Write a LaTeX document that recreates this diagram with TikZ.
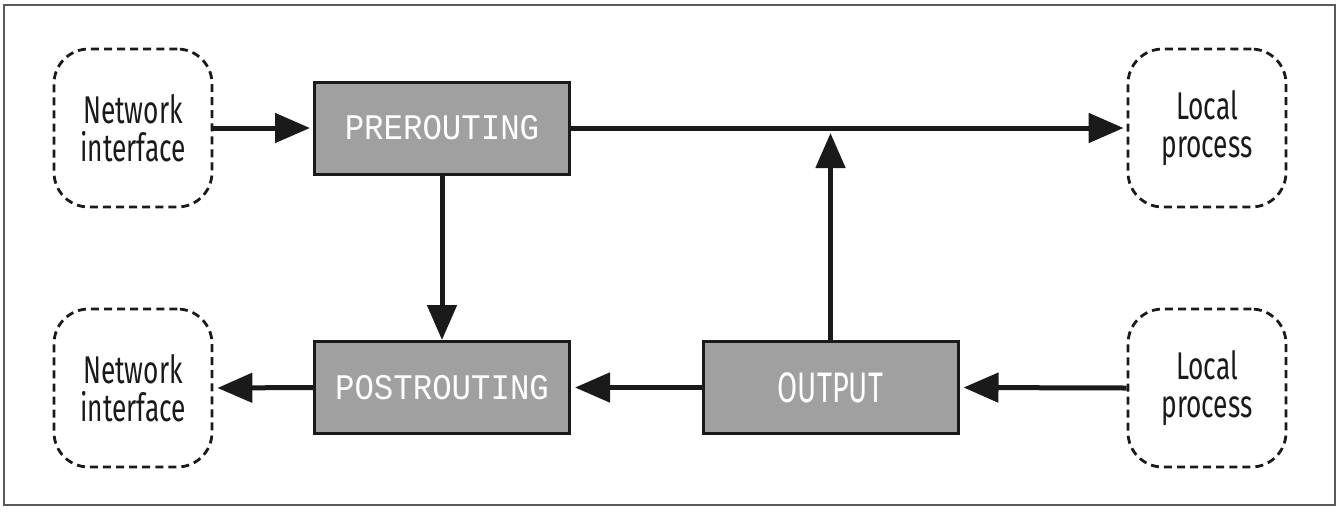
\documentclass[tikz,border=0pt]{standalone}
\usepackage{fontspec}
\usetikzlibrary{arrows.meta}
\newfontfamily\labfont[FakeStretch=0.68]{Fira Sans}
\newfontfamily\monofnt[FakeStretch=0.9]{Liberation Mono}
\definecolor{ink}{HTML}{1A1A1A}
\definecolor{boxgray}{HTML}{A0A0A0}
\definecolor{framegray}{HTML}{5A5A5A}
\begin{document}
\begin{tikzpicture}[x=0.75pt,y=-0.75pt,
  endpoint/.style={draw=ink, line width=2.1pt, dash pattern=on 6pt off 3.8pt,
    rounded corners=26pt, minimum width=118.5pt, minimum height=118.5pt,
    inner sep=0pt, align=center, text=ink,
    font={\labfont\fontsize{29}{28.5}\selectfont}},
  chain/.style={draw=ink, fill=boxgray, line width=2.25pt,
    minimum width=191.25pt, minimum height=69pt, inner sep=0pt, text=white},
  monolab/.style={font={\monofnt\fontsize{27}{28}\selectfont}},
  flow/.style={draw=ink, line width=3.75pt,
    -{Triangle[length=26.25pt,width=21.75pt]}},
]
\useasboundingbox (0,0) rectangle (1342,512);
\draw[framegray, line width=1.5pt] (4,5) rectangle (1335,505);

\node[endpoint] (ni1) at (133,128) {Network\\interface};
\node[endpoint] (lp1) at (1207,128) {Local\\process};
\node[endpoint] (ni2) at (133,388) {Network\\interface};
\node[endpoint] (lp2) at (1207,388) {Local\\process};

\node[chain, monolab] (pre) at (442,128) {PREROUTING};
\node[chain, monolab] (post) at (442,387.5) {POSTROUTING};
\node[chain, font={\labfont\fontsize{32}{34}\selectfont}] (out) at (830.5,387.5) {OUTPUT};

\draw[flow, shorten >=2.25pt] (ni1.east) -- (pre.west);
\draw[flow, shorten >=2.25pt] (pre.east) -- (lp1.west);
\draw[flow] (pre.south) -- (pre.south |- post.north);
\draw[flow, shorten >=3.75pt] (out.north) -- (out.north |- pre.east);
\draw[flow, shorten >=3pt] (out.west) -- (post.east);
\draw[flow, shorten >=3pt] (post.west) -- (ni2.east);
\draw[flow, shorten >=3pt] (lp2.west) -- (out.east);
\end{tikzpicture}
\end{document}
